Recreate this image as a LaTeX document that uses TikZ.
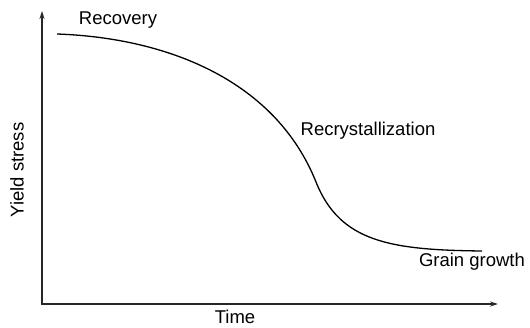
\documentclass[tikz,border=0pt]{standalone}
\usepackage{fontspec}
\setmainfont{Liberation Sans}
\usetikzlibrary{arrows.meta}
\begin{document}
\begin{tikzpicture}[
    x=1pt,y=1pt,
    >={Stealth[length=8pt,width=5pt]},
    axis/.style={line width=1.3pt, draw=black!85},
    curve/.style={line width=1.3pt, draw=black},
    lbl/.style={
        font=\fontsize{18.5}{21}\selectfont,
        inner sep=0pt,
        text=black
    }
]
    \useasboundingbox (0,0) rectangle (530,327);

    % axes
    \coordinate (O) at (42,23);
    \coordinate (ytop) at (42,316);
    \coordinate (xend) at (498,23);
    \draw[axis,<->] (ytop) -- (O) -- (xend);

    % yield stress curve
    \coordinate (c0) at (57,293);
    \coordinate (c1) at (316,145);
    \coordinate (c2) at (482,76);
    \draw[curve] (c0) .. controls (170,289) and (276,245) .. (c1)
                      .. controls (340,85) and (390,77) .. (c2);

    % labels
    \node[lbl] (recov) at (118,307) {Recovery};
    \node[lbl] (recryst) at (368,196) {Recrystallization};
    \node[lbl] (grain) at (472,65) {Grain growth};
    \node[lbl] (time) at (235,10) {Time};
    \node[lbl, rotate=90] (ystress) at (17,157) {Yield stress};

\end{tikzpicture}
\end{document}
